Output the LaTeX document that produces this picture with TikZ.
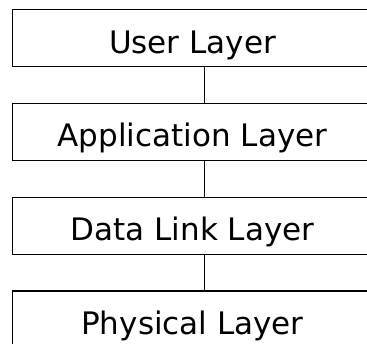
\documentclass[tikz,border=0pt]{standalone}
\usepackage{fontspec}
\setmainfont{DejaVu Sans}
\tikzset{
  layerbox/.style={draw=black, line width=1.5pt, rectangle, inner xsep=0pt, inner ysep=0pt,
    minimum width=360pt, text height=43.5pt, text depth=13.5pt,
    font=\fontsize{31pt}{36pt}\selectfont},
  link/.style={draw=black, line width=1.5pt}
}
\begin{document}
\begin{tikzpicture}[x=1pt,y=1pt]
\useasboundingbox (0,0) rectangle (367,-344);
\clip (0,0) rectangle (367,-344);
\node[layerbox] (u) at (192.5,-38.2) {User Layer};
\node[layerbox] (a) at (192.5,-132.0) {Application Layer};
\node[layerbox] (d) at (192.5,-225.8) {Data Link Layer};
\node[layerbox] (p) at (192.5,-319.6) {Physical Layer};
\draw[link] ([xshift=12.2pt]u.south) -- ([xshift=12.2pt]a.north);
\draw[link] ([xshift=12.2pt]a.south) -- ([xshift=12.2pt]d.north);
\draw[link] ([xshift=12.2pt]d.south) -- ([xshift=12.2pt]p.north);
\end{tikzpicture}
\end{document}
